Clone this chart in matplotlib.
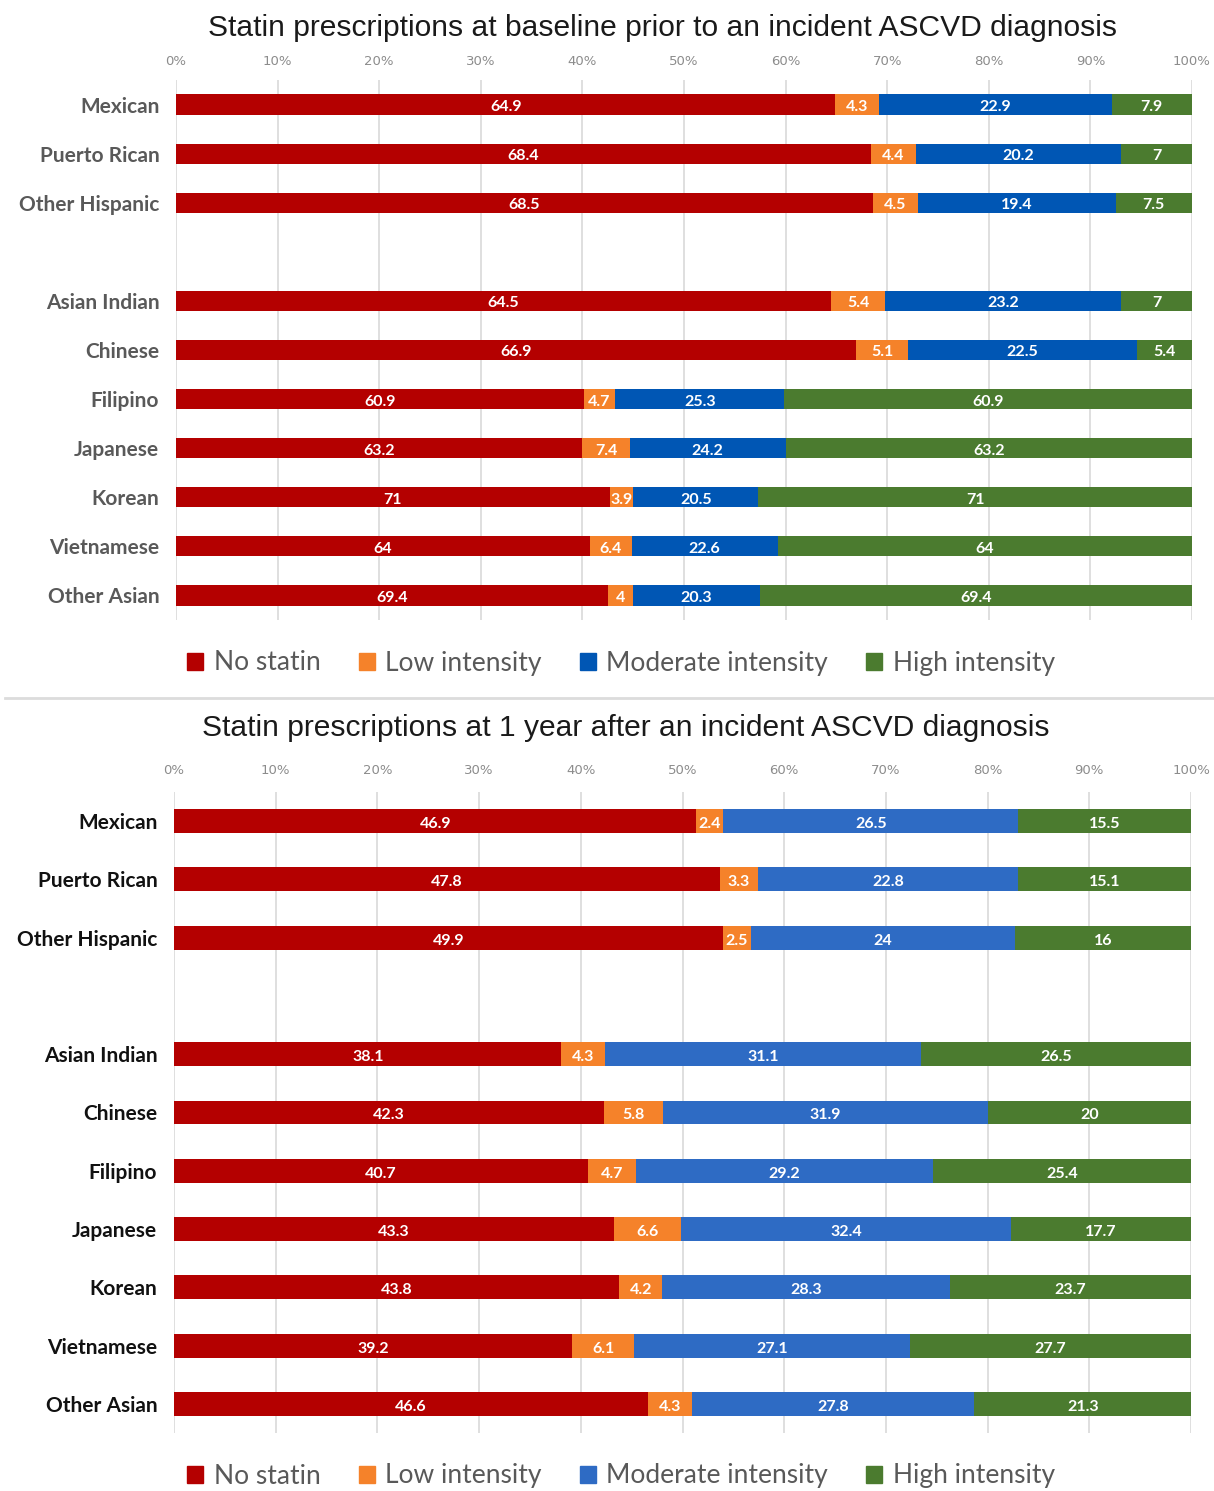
import numpy as np
import matplotlib
matplotlib.use("Agg")
import matplotlib.pyplot as plt
from matplotlib.patches import Patch
from matplotlib.lines import Line2D

groups = ["Mexican", "Puerto Rican", "Other Hispanic", "",
          "Asian Indian", "Chinese", "Filipino", "Japanese", "Korean", "Vietnamese", "Other Asian"]
series = ["No statin", "Low intensity", "Moderate intensity", "High intensity"]

# baseline (values as printed on the bars; "" row is the gap)
base_none = [64.9, 68.4, 68.5, 0, 64.5, 66.9, 60.9, 63.2, 71, 64, 69.4]
base_low = [4.3, 4.4, 4.5, 0, 5.4, 5.1, 4.7, 7.4, 3.9, 6.4, 4]
base_mod = [22.9, 20.2, 19.4, 0, 23.2, 22.5, 25.3, 24.2, 20.5, 22.6, 20.3]
base_high = [7.9, 7, 7.5, 0, 7, 5.4, 60.9, 63.2, 71, 64, 69.4]

# 1 year after
yr_none = [46.9, 47.8, 49.9, 0, 38.1, 42.3, 40.7, 43.3, 43.8, 39.2, 46.6]
yr_low = [2.4, 3.3, 2.5, 0, 4.3, 5.8, 4.7, 6.6, 4.2, 6.1, 4.3]
yr_mod = [26.5, 22.8, 24, 0, 31.1, 31.9, 29.2, 32.4, 28.3, 27.1, 27.8]
yr_high = [15.5, 15.1, 16, 0, 26.5, 20, 25.4, 17.7, 23.7, 27.7, 21.3]

ticks = np.arange(0, 101, 10)

RED = "#B40000"
ORANGE = "#F5822A"
GREEN = "#4B7B2F"
BLUE_TOP = "#0056B4"
BLUE_BOT = "#2E6BC4"

fig = plt.figure(figsize=(12.14, 14.91), dpi=100)
H = 1491.0
W = 1214.0


def draw(ax, data, colors, label_color, tick_pad):
    vals = np.array(data, dtype=float)
    tot = vals.sum(axis=0)
    tot[tot == 0] = 1
    pct = vals / tot * 100
    y = np.arange(len(groups))
    left = np.zeros(len(groups))
    for k in range(4):
        ax.barh(y, pct[k], left=left, height=0.41, color=colors[k], zorder=3)
        for i in range(len(groups)):
            if vals[k, i] > 0:
                ax.text(left[i] + pct[k, i] / 2, y[i] + 0.05, f"{vals[k, i]:g}",
                        ha="center", va="center", color="white", fontsize=11.5,
                        fontweight="bold", family="Lato", zorder=4)
        left = left + pct[k]
    ax.set_xlim(0, 100)
    ax.set_ylim(len(groups) - 0.5, -0.5)
    ax.set_xticks(ticks)
    ax.set_xticklabels([f"{t}%" for t in ticks], fontsize=9.5, color="#8C8C8C")
    ax.xaxis.tick_top()
    ax.tick_params(axis="x", length=0, pad=tick_pad)
    ax.tick_params(axis="y", length=0, pad=12)
    ax.set_yticks(y)
    ax.set_yticklabels(groups, fontsize=15, fontweight="bold", color=label_color, family="Lato")
    ax.grid(axis="x", color="#D9D9D9", linewidth=1.2, zorder=0)
    for s in ax.spines.values():
        s.set_visible(False)


ax1 = fig.add_axes([176 / W, 1 - 620 / H, (1192 - 176) / W, 540 / H])
draw(ax1, [base_none, base_low, base_mod, base_high], [RED, ORANGE, BLUE_TOP, GREEN], "#595959", 8.5)
ax2 = fig.add_axes([174 / W, 1 - 1433 / H, (1191 - 174) / W, 641 / H])
draw(ax2, [yr_none, yr_low, yr_mod, yr_high], [RED, ORANGE, BLUE_BOT, GREEN], "#111111", 10.5)

fig.text(663 / W, 1 - 28 / H, "Statin prescriptions at baseline prior to an incident ASCVD diagnosis",
         ha="center", va="center", fontsize=21.6, family="Liberation Sans", color="#1a1a1a")
fig.text(626 / W, 1 - 728 / H, "Statin prescriptions at 1 year after an incident ASCVD diagnosis",
         ha="center", va="center", fontsize=21.6, family="Liberation Sans", color="#1a1a1a")

fig.add_artist(Line2D([5 / W, 1], [1 - 698 / H, 1 - 698 / H], color="#DCDCDC", linewidth=2))

for yc, blue in [(663, BLUE_TOP), (1476, BLUE_BOT)]:
    handles = [Patch(color=c) for c in [RED, ORANGE, blue, GREEN]]
    fig.legend(handles, series, loc="center", bbox_to_anchor=(621 / W, 1 - yc / H), ncol=4,
               frameon=False, handlelength=0.6, handleheight=0.6,
               handletextpad=0.4, columnspacing=1.45, labelcolor="#595959",
               prop={"family": "Lato", "size": 19})

fig.savefig("out.png", dpi=100, facecolor="white")
